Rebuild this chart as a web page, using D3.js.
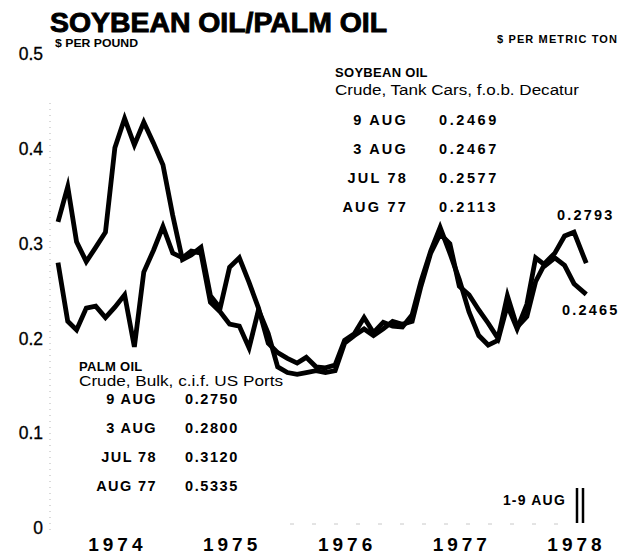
<!DOCTYPE html>
<html>
<head>
<meta charset="utf-8">
<script src="https://cdn.jsdelivr.net/npm/d3@7"></script>
<style>
  html, body { margin: 0; padding: 0; background: #fff; }
  svg { display: block; font-family: "Liberation Sans", Arial, Helvetica, sans-serif; }
</style>
</head>
<body>
<svg id="chart" width="621" height="554"></svg>
<script>
// Monthly averages, Jan 1974 – Jul 1978, then the 1–9 Aug 1978 average ($ per pound)
const soybeanOil = [
  0.323, 0.360, 0.302, 0.281, 0.296, 0.312, 0.401, 0.432, 0.404, 0.428, 0.406, 0.383,
  0.330, 0.283, 0.288, 0.296, 0.245, 0.232, 0.275, 0.285, 0.259, 0.232, 0.195, 0.185,
  0.179, 0.174, 0.180, 0.170, 0.169, 0.172, 0.198, 0.205, 0.222, 0.206, 0.217, 0.213,
  0.212, 0.225, 0.260, 0.292, 0.317, 0.290, 0.262, 0.228, 0.203, 0.193, 0.198, 0.235,
  0.210, 0.236, 0.285, 0.277, 0.285, 0.277, 0.2577,
  0.2465
];
const palmOil = [
  0.280, 0.218, 0.209, 0.232, 0.234, 0.222, 0.233, 0.246, 0.191, 0.270, 0.293, 0.318,
  0.290, 0.285, 0.292, 0.290, 0.238, 0.228, 0.215, 0.213, 0.190, 0.230, 0.205, 0.170,
  0.164, 0.162, 0.164, 0.166, 0.164, 0.166, 0.195, 0.203, 0.210, 0.203, 0.210, 0.218,
  0.215, 0.218, 0.255, 0.290, 0.310, 0.300, 0.255, 0.246, 0.230, 0.216, 0.200, 0.245,
  0.212, 0.223, 0.260, 0.280, 0.290, 0.308, 0.3120,
  0.2793
];
const periodEnd = "1978-08-09";           // end of the 1–9 Aug partial period
const years = [1974, 1975, 1976, 1977, 1978];
const yTicks = [0, 0.1, 0.2, 0.3, 0.4, 0.5];

const soyRows = [["9 AUG", "0.2469"], ["3 AUG", "0.2467"], ["JUL 78", "0.2577"], ["AUG 77", "0.2113"]];
const palmRows = [["9 AUG", "0.2750"], ["3 AUG", "0.2800"], ["JUL 78", "0.3120"], ["AUG 77", "0.5335"]];

const parse = d3.timeParse("%Y-%m-%d");
const months = d3.timeMonth.range(new Date(1974, 0, 1), new Date(1978, 7, 1));
const dates = months.concat([parse(periodEnd)]);

const svg = d3.select("#chart");
const FONT = "'Liberation Sans', Arial, sans-serif";

const x = d3.scaleTime()
  .domain([new Date(1974, 0, 1), new Date(1978, 6, 1)])
  .range([58, 574]);
const y = d3.scaleLinear().domain([0, 0.5]).range([528, 54]);

// faint dotted value axis and baseline
svg.append("line")
  .attr("x1", 50).attr("x2", 50).attr("y1", 103).attr("y2", 530)
  .attr("stroke", "#b5b5b5").attr("stroke-width", 1).attr("stroke-dasharray", "1,5");
svg.append("line")
  .attr("x1", 290).attr("x2", 575).attr("y1", y(0) - 4).attr("y2", y(0) - 4)
  .attr("stroke", "#c8c8c8").attr("stroke-width", 1).attr("stroke-dasharray", "4,18");

// value axis labels
const yAxis = d3.axisLeft(y)
  .tickValues(yTicks)
  .tickSize(0)
  .tickPadding(0)
  .tickFormat(v => v === 0 ? "0" : d3.format(".1f")(v));
const gy = svg.append("g").attr("transform", "translate(43,0)").call(yAxis);
gy.select(".domain").remove();
gy.selectAll("text")
  .attr("font-size", 17.5).attr("fill", "#000")
  .attr("stroke", "#000").attr("stroke-width", 0.3)
  .style("font-family", FONT);

// year axis, labels centred mid-year
const xAxis = d3.axisBottom(x)
  .tickValues(years.map(yr => new Date(yr, 6, 1)))
  .tickSize(0)
  .tickPadding(0)
  .tickFormat(d3.timeFormat("%Y"));
const gx = svg.append("g").attr("transform", "translate(0,537)").call(xAxis);
gx.select(".domain").remove();
gx.selectAll("text")
  .attr("font-size", 19).attr("font-weight", "bold").attr("fill", "#000")
  .attr("letter-spacing", 4)
  .attr("dx", 2)
  .style("font-family", FONT);

// series lines
const line = d3.line()
  .x((d, i) => x(dates[i]))
  .y(d => y(d))
  .curve(d3.curveLinear);

[palmOil, soybeanOil].forEach(series => {
  svg.append("path")
    .datum(series)
    .attr("d", line)
    .attr("fill", "none")
    .attr("stroke", "#000")
    .attr("stroke-width", 4.8)
    .attr("stroke-linejoin", "miter")
    .attr("stroke-miterlimit", 6);
});

// titles
svg.append("text")
  .attr("x", 50).attr("y", 32)
  .attr("font-size", 27).attr("font-weight", "bold")
  .attr("stroke", "#000").attr("stroke-width", 0.9)
  .attr("textLength", 337).attr("lengthAdjust", "spacingAndGlyphs")
  .text("SOYBEAN OIL/PALM OIL");
svg.append("text")
  .attr("x", 55).attr("y", 47)
  .attr("font-size", 11.5).attr("font-weight", "bold")
  .attr("textLength", 83).attr("lengthAdjust", "spacingAndGlyphs")
  .text("$ PER POUND");
svg.append("text")
  .attr("x", 497).attr("y", 43)
  .attr("font-size", 11).attr("font-weight", "bold")
  .attr("textLength", 120).attr("lengthAdjust", "spacing")
  .text("$ PER METRIC TON");

// shared style for the bold price rows
function boldRow(sel, size, spacing) {
  return sel.attr("font-size", size).attr("font-weight", "bold").attr("letter-spacing", spacing);
}

// soybean oil note
const soyNote = svg.append("g");
soyNote.append("text").attr("x", 335).attr("y", 77)
  .attr("font-size", 13).attr("font-weight", "bold").attr("letter-spacing", 0.3).text("SOYBEAN OIL");
soyNote.append("text").attr("x", 335).attr("y", 95)
  .attr("font-size", 14).attr("textLength", 244).attr("lengthAdjust", "spacingAndGlyphs")
  .text("Crude, Tank Cars, f.o.b. Decatur");
soyRows.forEach((r, i) => {
  const yy = 125 + i * 29;
  boldRow(soyNote.append("text"), 14.5, 2.2).attr("x", 408).attr("y", yy)
    .attr("text-anchor", "end").text(r[0]);
  boldRow(soyNote.append("text"), 14.5, 2.6).attr("x", 439).attr("y", yy).text(r[1]);
});

// palm oil note
const palmNote = svg.append("g");
palmNote.append("text").attr("x", 79).attr("y", 371)
  .attr("font-size", 13).attr("font-weight", "bold").attr("letter-spacing", 0.3).text("PALM OIL");
palmNote.append("text").attr("x", 79).attr("y", 386)
  .attr("font-size", 14).attr("textLength", 204).attr("lengthAdjust", "spacingAndGlyphs")
  .text("Crude, Bulk, c.i.f. US Ports");
palmRows.forEach((r, i) => {
  const yy = 404 + i * 29;
  boldRow(palmNote.append("text"), 14.5, 1.4).attr("x", 157).attr("y", yy)
    .attr("text-anchor", "end").text(r[0]);
  boldRow(palmNote.append("text"), 14.5, 1.6).attr("x", 185).attr("y", yy).text(r[1]);
});

// end-of-line values
const last = dates.length - 1;
boldRow(svg.append("text"), 14.5, 2.2).attr("x", 557).attr("y", y(palmOil[last]) - 43)
  .text(d3.format(".4f")(palmOil[last]));
boldRow(svg.append("text"), 14.5, 2.2).attr("x", 562).attr("y", y(soybeanOil[last]) + 21)
  .text(d3.format(".4f")(soybeanOil[last]));

// partial-period marker
boldRow(svg.append("text"), 14, 1.2).attr("x", 566).attr("y", 505).attr("text-anchor", "end")
  .text("1-9 AUG");
[577, 583].forEach(bx => {
  svg.append("line").attr("x1", bx).attr("x2", bx).attr("y1", 488).attr("y2", 523)
    .attr("stroke", "#000").attr("stroke-width", 2.5);
});
</script>
</body>
</html>
